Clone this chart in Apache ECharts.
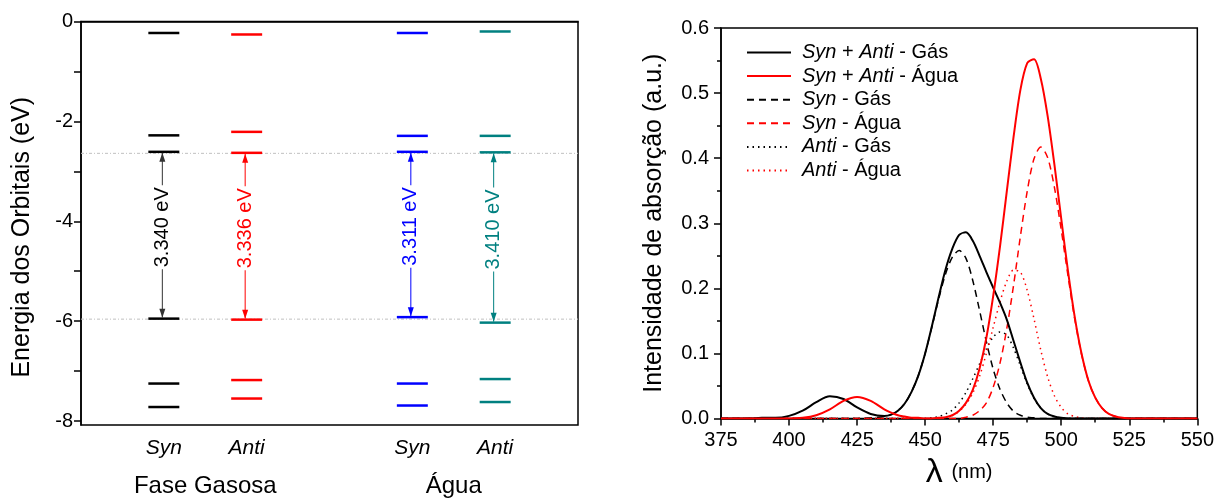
<!DOCTYPE html>
<html><head><meta charset="utf-8">
<script src="https://cdn.jsdelivr.net/npm/echarts@6/dist/echarts.min.js"></script>
<style>html,body{margin:0;padding:0;background:#fff}#c{width:1217px;height:498px}</style>
</head><body><div id="c"></div>
<script>
// ---------- Left panel data ----------
const levelCategories = ['', 'Syn', 'Anti', '', 'Syn', 'Anti', ''];
const phaseLabels = ['Fase Gasosa', 'Água'];
const energyLabelTicks = [-8, -6, -4, -2, 0];
const energyMinorTicks = [-8, -7, -6, -5, -4, -3, -2, -1, 0];
const synGasLevels   = [-0.23, -2.28, -2.61, -5.95, -7.25, -7.72];
const antiGasLevels  = [-0.26, -2.21, -2.63, -5.97, -7.18, -7.55];
const synWaterLevels = [-0.23, -2.29, -2.61, -5.92, -7.25, -7.69];
const antiWaterLevels= [-0.20, -2.29, -2.62, -6.03, -7.16, -7.62];
const gapLabels = ['3.340 eV', '3.336 eV', '3.311 eV', '3.410 eV'];
const refLevels = [-2.64, -5.96];

// ---------- Right panel data ----------
const wavelength = [375,380,385,390,395,400,405,410,415,420,425,430,435,
  437.5,440,442.5,445,447.5,450,452.5,455,457.5,460,462.5,465,467.5,470,472.5,475,477.5,480,
  482.5,485,487.5,490,492.5,495,497.5,500,502.5,505,507.5,510,512.5,515,517.5,520,522.5,525,
  530,540,550];
const synAntiGas = [0,0,0,0.001,0.001,0.004,0.012,0.025,0.034,0.030,0.017,0.007,0.004,
  0.006,0.012,0.023,0.041,0.066,0.100,0.142,0.187,0.229,0.261,0.282,0.286,0.273,0.250,0.225,0.201,0.178,0.152,
  0.119,0.086,0.055,0.032,0.016,0.007,0.003,0.001,0,0,0,0,0,0,0,0,0,0,
  0,0,0];
const synAntiWater = [0,0,0,0,0,0,0.001,0.005,0.014,0.027,0.033,0.027,0.014,
  0.009,0.005,0.003,0.001,0.001,0,0,0.001,0.002,0.005,0.012,0.024,0.044,0.077,0.124,0.188,0.264,0.349,
  0.433,0.505,0.546,0.552,0.522,0.465,0.390,0.307,0.226,0.155,0.099,0.058,0.032,0.016,0.007,0.003,0.001,0,
  0,0,0];
const synGas = [0,0,0,0,0,0,0,0,0,0,0,0.001,0.003,
  0.006,0.012,0.023,0.041,0.066,0.100,0.141,0.184,0.222,0.248,0.258,0.246,0.212,0.166,0.118,0.076,0.045,0.024,
  0.011,0.005,0.002,0.001,0,0,0,0,0,0,0,0,0,0,0,0,0,0,
  0,0,0];
const synWater = [0,0,0,0,0,0,0,0,0,0,0,0,0,
  0,0,0,0,0,0,0,0,0,0,0,0.002,0.005,0.012,0.024,0.048,0.085,0.138,
  0.205,0.280,0.349,0.399,0.417,0.401,0.355,0.290,0.219,0.152,0.098,0.058,0.032,0.016,0.007,0.003,0.001,0,
  0,0,0];
const antiGas = [0,0,0,0,0,0,0,0,0,0,0,0,0,
  0,0,0,0,0,0,0.001,0.003,0.007,0.013,0.024,0.040,0.061,0.084,0.107,0.125,0.133,0.128,
  0.108,0.081,0.053,0.031,0.016,0.007,0.003,0.001,0,0,0,0,0,0,0,0,0,0,
  0,0,0];
const antiWater = [0,0,0,0,0,0,0,0,0,0,0,0,0,
  0,0,0,0,0,0,0,0.001,0.002,0.005,0.011,0.022,0.039,0.065,0.100,0.140,0.179,0.211,
  0.228,0.225,0.197,0.153,0.105,0.064,0.035,0.017,0.007,0.003,0.001,0,0,0,0,0,0,0,
  0,0,0];
const seriesNames = ['Syn + Anti - Gás', 'Syn + Anti - Água', 'Syn - Gás', 'Syn - Água', 'Anti - Gás', 'Anti - Água'];

// ---------- Build ----------
const FONT = 'Liberation Sans, Arial, sans-serif';
const chart = echarts.init(document.getElementById('c'), null, {renderer: 'canvas'});

const levelColumns = [
  {cat: 1, levels: synGasLevels,   color: '#000000', arrow: '#333333'},
  {cat: 2, levels: antiGasLevels,  color: '#ff0000', arrow: '#ff0000'},
  {cat: 4, levels: synWaterLevels, color: '#0000ff', arrow: '#0000ff'},
  {cat: 5, levels: antiWaterLevels,color: '#008080', arrow: '#008080'}
];

const series = [];
series.push({
  type: 'custom', xAxisIndex: 0, yAxisIndex: 0, silent: true, z: 1,
  data: refLevels.map(v => [0, v]),
  renderItem: function (params, api) {
    const cs = params.coordSys;
    const y = api.coord([0, api.value(1)])[1];
    return {type: 'line', shape: {x1: cs.x, y1: y, x2: cs.x + cs.width, y2: y},
      style: {stroke: '#c0c0c0', lineWidth: 1, lineDash: [3, 2, 1, 2]}};
  }
});
levelColumns.forEach(function (col, ci) {
  series.push({
    type: 'custom', xAxisIndex: 0, yAxisIndex: 0, silent: true, z: 3,
    data: col.levels.map(v => [col.cat, v]),
    renderItem: function (params, api) {
      const p = api.coord([api.value(0), api.value(1)]);
      const half = api.size([1, 0])[0] * 0.187;
      return {type: 'line', shape: {x1: p[0] - half, y1: p[1], x2: p[0] + half, y2: p[1]},
        style: {stroke: col.color, lineWidth: 2.5}};
    }
  });
  series.push({
    type: 'custom', xAxisIndex: 0, yAxisIndex: 0, silent: true, z: 4,
    data: [[col.cat, col.levels[2], col.levels[3]]],
    renderItem: function (params, api) {
      const top = api.coord([api.value(0), api.value(1)]);
      const bot = api.coord([api.value(0), api.value(2)]);
      const x = top[0] - 1.5;
      const y1 = top[1] + 1, y2 = bot[1] - 1;
      const mid = (y1 + y2) / 2 - 8;
      return {type: 'group', children: [
        {type: 'line', shape: {x1: x, y1: y1, x2: x, y2: y2}, style: {stroke: col.arrow, lineWidth: 1}},
        {type: 'polygon', shape: {points: [[x, y1], [x - 3, y1 + 9], [x + 3, y1 + 9]]}, style: {fill: col.arrow}},
        {type: 'polygon', shape: {points: [[x, y2], [x - 3, y2 - 9], [x + 3, y2 - 9]]}, style: {fill: col.arrow}},
        {type: 'text', x: x, y: mid, rotation: Math.PI / 2,
          style: {text: gapLabels[ci], x: 0, y: 0, align: 'center', verticalAlign: 'middle',
            fill: col.color, font: '20px ' + FONT, backgroundColor: '#fff', padding: [0, 2]}}
      ]};
    }
  });
});

const specStyles = [
  {data: synAntiGas,   color: '#000000', type: 'solid',  width: 2},
  {data: synAntiWater, color: '#ff0000', type: 'solid',  width: 2},
  {data: synGas,       color: '#000000', type: [7, 5],   width: 1.5},
  {data: synWater,     color: '#ff0000', type: [7, 5],   width: 1.5},
  {data: antiGas,      color: '#000000', type: [1.5, 4], width: 1.5},
  {data: antiWater,    color: '#ff0000', type: [1.5, 4], width: 1.5}
];
specStyles.forEach(function (s, i) {
  series.push({
    name: seriesNames[i], type: 'line', xAxisIndex: 2, yAxisIndex: 1,
    data: wavelength.map((w, k) => [w, s.data[k]]),
    symbol: 'none', showSymbol: false, smooth: 0.3, z: i > 1 ? 4 : 5,
    color: s.color,
    lineStyle: {color: s.color, width: s.width, type: s.type}
  });
});

const axisLineStyle = {color: '#000', width: 1.5};
chart.setOption({
  animation: false,
  textStyle: {fontFamily: FONT},
  grid: [
    {left: 81, top: 21.5, width: 497, height: 404, show: true, borderColor: '#000', borderWidth: 1.5},
    {left: 721, top: 28, width: 477, height: 390.5, show: true, borderColor: '#000', borderWidth: 1.5}
  ],
  legend: {
    data: seriesNames, orient: 'vertical', left: 741, top: 37,
    itemWidth: 44, itemHeight: 14, itemGap: 2.6,
    itemStyle: {opacity: 0},
    textStyle: {fontSize: 20, color: '#000', fontFamily: FONT, lineHeight: 21, padding: [0, 0, 0, 6],
      rich: {i: {fontStyle: 'italic', fontSize: 20, fontFamily: FONT, color: '#000'}}},
    formatter: function (name) { return name.replace(/(Syn|Anti)/g, '{i|$1}'); }
  },
  xAxis: [
    {gridIndex: 0, type: 'category', data: levelCategories, boundaryGap: false,
      axisLine: {show: true, lineStyle: axisLineStyle}, axisTick: {show: false}, splitLine: {show: false},
      axisLabel: {interval: 0, fontStyle: 'italic', fontSize: 21, color: '#000', margin: 13, fontFamily: FONT}},
    {gridIndex: 0, type: 'category', data: phaseLabels, boundaryGap: true, position: 'bottom', offset: 46,
      axisLine: {show: false}, axisTick: {show: false}, splitLine: {show: false},
      axisLabel: {interval: 0, fontSize: 24, color: '#000', margin: 3, fontFamily: FONT}},
    {gridIndex: 1, type: 'value', min: 375, max: 550, interval: 25,
      name: '{l|λ}{n| (nm)}', nameLocation: 'middle', nameGap: 35,
      nameTextStyle: {rich: {l: {fontSize: 34, color: '#000', fontFamily: FONT}, n: {fontSize: 20, color: '#000', fontFamily: FONT, padding: [0, 0, 0, 3]}}},
      axisLine: {show: true, lineStyle: axisLineStyle},
      axisTick: {show: true, inside: false, length: 7, lineStyle: {color: '#000', width: 1.5}},
      minorTick: {show: true, splitNumber: 2, length: 4, lineStyle: {color: '#000', width: 1.5}},
      splitLine: {show: false}, minorSplitLine: {show: false},
      axisLabel: {fontSize: 20, color: '#000', margin: 12, fontFamily: FONT}}
  ],
  yAxis: [
    {gridIndex: 0, type: 'value', min: -8.08, max: 0,
      name: 'Energia dos Orbitais (eV)', nameLocation: 'middle', nameGap: 46,
      nameTextStyle: {fontSize: 25, color: '#000', fontFamily: FONT, padding: [0, 28, 0, 0]},
      axisLine: {show: true, lineStyle: axisLineStyle},
      axisTick: {show: true, length: 7, lineStyle: {color: '#000', width: 1.5}, customValues: energyMinorTicks},
      axisLabel: {fontSize: 20, color: '#000', margin: 8, fontFamily: FONT, customValues: energyLabelTicks},
      splitLine: {show: false}},
    {gridIndex: 1, type: 'value', min: 0, max: 0.6, interval: 0.1,
      name: 'Intensidade de absorção (a.u.)', nameLocation: 'middle', nameGap: 54,
      nameTextStyle: {fontSize: 25, color: '#000', fontFamily: FONT},
      axisLine: {show: true, lineStyle: axisLineStyle},
      axisTick: {show: true, length: 7, lineStyle: {color: '#000', width: 1.5}},
      minorTick: {show: true, splitNumber: 2, length: 4, lineStyle: {color: '#000', width: 1.5}},
      splitLine: {show: false}, minorSplitLine: {show: false},
      axisLabel: {fontSize: 20, color: '#000', margin: 12, fontFamily: FONT,
        formatter: function (v) { return v.toFixed(1); }}}
  ],
  series: series
});
</script></body></html>
